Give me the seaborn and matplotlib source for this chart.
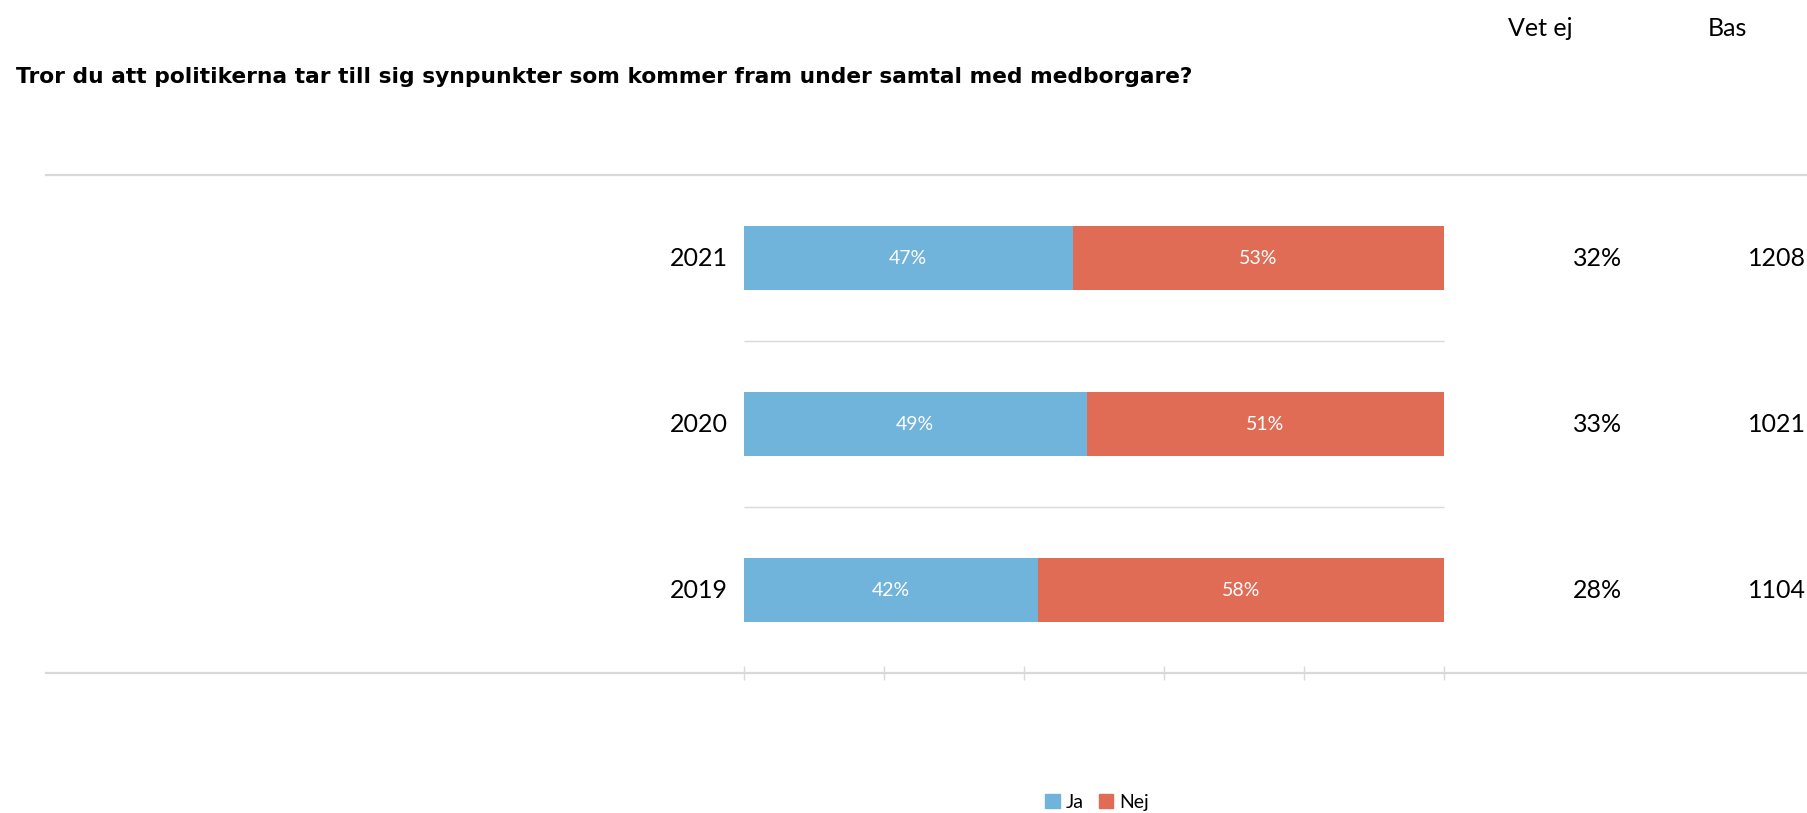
import pandas as pd
import matplotlib.pyplot as plt
import seaborn as sns
from matplotlib.patches import Patch

# Data
years = ['2021', '2020', '2019']
ja = [47, 49, 42]
nej = [53, 51, 58]
vet_ej = ['32%', '33%', '28%']
bas = ['1208', '1021', '1104']

blue = '#70B3DB'
red = '#E06C56'
grid = '#D9D9D9'

df = pd.DataFrame({'year': years, 'ja': ja, 'nej': nej})
df['total'] = df['ja'] + df['nej']

sns.set_style('white')
plt.rcParams['font.family'] = ['Lato', 'DejaVu Sans']
plt.rcParams['text.color'] = 'black'

fig = plt.figure(figsize=(18.07, 8.13), dpi=100)
ax = fig.add_axes([46 / 1807, 1 - 673 / 813, 1 - 46 / 1807, (673 - 175) / 813])

# stacked bars: total in red, Ja on top in blue
sns.barplot(data=df, y='year', x='total', color=red, width=0.385, orient='h',
            saturation=1, linewidth=0, ax=ax)
sns.barplot(data=df, y='year', x='ja', color=blue, width=0.385, orient='h',
            saturation=1, linewidth=0, ax=ax)

ax.set_xlim(-99.7, 151.9)
ax.set_ylim(2.5, -0.5)
ax.set_xlabel('')
ax.set_ylabel('')
ax.set_yticks([])
ax.set_xticks([0, 20, 40, 60, 80, 100])
ax.set_xticklabels([])
ax.tick_params(axis='x', direction='inout', length=9.5, width=1, color=grid, bottom=True)

for side in ['left', 'right']:
    ax.spines[side].set_visible(False)
for side in ['top', 'bottom']:
    ax.spines[side].set_color(grid)
    ax.spines[side].set_linewidth(1.6)

# separators between rows
ax.hlines([0.5, 1.5], 0, 100, color=grid, linewidth=1)

for i, y in enumerate(years):
    ax.text(-2.3, i, y, ha='right', va='center', fontsize=18, color='black')
    ax.text(ja[i] / 2, i, f'{ja[i]}%', ha='center', va='center', fontsize=14, color='white')
    ax.text(ja[i] + nej[i] / 2, i, f'{nej[i]}%', ha='center', va='center', fontsize=14, color='white')
    ax.text(122, i, vet_ej[i], ha='center', va='center', fontsize=18, color='black')
    ax.text(147.6, i, bas[i], ha='center', va='center', fontsize=18, color='black')

fig.text(1540 / 1807, 1 - 28 / 813, 'Vet ej', ha='center', va='center', fontsize=18)
fig.text(1727 / 1807, 1 - 28 / 813, 'Bas', ha='center', va='center', fontsize=18)
fig.text(16 / 1807, 1 - 77 / 813,
         'Tror du att politikerna tar till sig synpunkter som kommer fram under samtal med medborgare?',
         ha='left', va='center', fontsize=15.7, fontweight='bold', family='DejaVu Sans',
         color='black')

handles = [Patch(color=blue, label='Ja'), Patch(color=red, label='Nej')]
fig.legend(handles=handles, loc='center', bbox_to_anchor=(1097 / 1807, 1 - 802 / 813),
           ncol=2, frameon=False, fontsize=14, handlelength=0.75, handleheight=0.75,
           handletextpad=0.3, columnspacing=0.8)

fig.savefig('out.png', dpi=100)
